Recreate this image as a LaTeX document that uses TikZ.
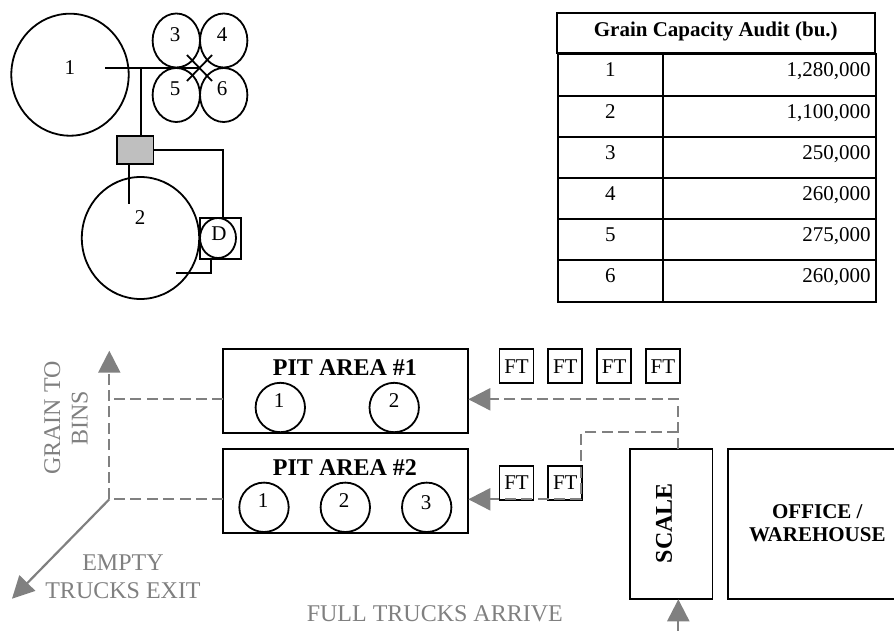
\documentclass[tikz,border=0pt]{standalone}
\usepackage{fontspec}
\setmainfont{Liberation Serif}
\usetikzlibrary{arrows.meta, positioning, shapes.geometric, matrix}
\definecolor{cgrey}{HTML}{808080}
\definecolor{cbox}{HTML}{BFBFBF}
\tikzset{
  every picture/.style={line width=0.9pt},
  bin/.style 2 args={ellipse, draw=black, minimum width=#1, minimum height=#2, inner sep=0pt, outer sep=0pt},
  bigbin/.style={bin={58.7pt}{61pt}},
  smallbin/.style={bin={23.7pt}{27pt}},
  pit/.style={bin={24.7pt}{24.7pt}},
  num/.style={font=\fontsize{10.5}{12}\selectfont, inner sep=0pt},
  area/.style 2 args={draw=black, minimum width=#1, minimum height=#2, inner sep=0pt, outer sep=0pt},
  ftbox/.style={area={17pt}{17pt}, font=\fontsize{10.5}{12}\selectfont},
  head/.style={font=\fontsize{12}{13.8}\selectfont\bfseries, inner sep=0pt, align=center},
  note/.style={font=\fontsize{12}{13.8}\selectfont, text=cgrey, inner sep=0pt, align=center},
  pipe/.style={draw=black, line width=0.9pt},
  flow/.style={draw=cgrey, line width=1.1pt, dash pattern=on 5.5pt off 2.7pt},
  arrow/.style={-{Triangle[length=11pt, width=11pt]}, draw=cgrey, line width=1.1pt},
}
\begin{document}
\begin{tikzpicture}[x=0.5pt, y=-0.5pt]
  \useasboundingbox (0,0) rectangle (894,631);
  % bins
  \node[bigbin] (bin1) at (70,74.7) {};
  \node[bigbin] (bin2) at (140.5,238) {};
  \node[smallbin] (bin3) at (176.3,40.5) {};
  \node[smallbin] (bin4) at (223.7,40.5) {};
  \node[smallbin] (bin5) at (176.3,95) {};
  \node[smallbin] (bin6) at (223.7,95) {};
  \node[area={20.4pt}{20.8pt}] (dsq) at (220.3,238.5) {};
  \node[bin={18pt}{20pt}] (dryer) at (218,238) {};
  \node[area={18.2pt}{14pt}, fill=cbox] (leg) at (135.2,150) {};
  \node[num] (lab1) at (70,68) {1};
  \node[num] (lab2) at (140,218) {2};
  \node[num] (lab3) at (175,35) {3};
  \node[num] (lab4) at (222,35) {4};
  \node[num] (lab5) at (175,89) {5};
  \node[num] (lab6) at (222,89) {6};
  \node[num] (labd) at (219,234) {D};
  % pipes
  \coordinate (hub) at (105,68);
  \coordinate (tee) at (141,68);
  \coordinate (cross) at (200,68);
  \coordinate (drop) at (129,204);
  \coordinate (spout) at (175.7,272.7);
  \coordinate (x3) at (187,55);
  \coordinate (x4) at (212,55);
  \coordinate (x5) at (187,81);
  \coordinate (x6) at (212,81);
  \coordinate (dryerin) at (222.7,218);
  \coordinate (dryerout) at (211,259.3);
  \draw[pipe] (hub) -- (cross);
  \draw[pipe] (tee) -- (tee |- leg.north);
  \draw[pipe] (x3) -- (x6);
  \draw[pipe] (x4) -- (x5);
  \draw[pipe] (leg.east) -| (dryerin);
  \draw[pipe] (drop |- leg.south) -- (drop);
  \draw[pipe] (dryerout) |- (spout);
  % table
  \node[area={159.2pt}{20.25pt}, line width=1pt, inner sep=0pt, font=\fontsize{10.5}{12}\selectfont\bfseries, text height=12pt, text depth=8.2pt] (audittitle) at (715.8,33.2) {Grain Capacity Audit (bu.)};
  \matrix (audit) [matrix of nodes, anchor=north west, inner sep=0pt, column sep=-1pt, row sep=-1pt,
      nodes={draw=black, line width=1pt, outer sep=0pt, inner ysep=2pt, inner xsep=2.5pt, text height=9.2pt, text depth=7.4pt, font=\fontsize{10.5}{12}\selectfont},
      column 1/.style={nodes={text width=47.7pt, align=center}},
      column 2/.style={nodes={text width=101.3pt, align=right}}] at (555.7,52.5) {
    1 & 1,280,000 \\
    2 & 1,100,000 \\
    3 & 250,000 \\
    4 & 260,000 \\
    5 & 275,000 \\
    6 & 260,000 \\
  };
  % pit areas
  \node[area={122.5pt}{42pt}] (pit1) at (345.8,391.3) {};
  \node[area={122.5pt}{41.7pt}] (pit2) at (345.8,491) {};
  \node[head] (pit1lab) at (345,367.7) {PIT AREA \#1};
  \node[head] (pit2lab) at (345,467.7) {PIT AREA \#2};
  \node[pit] (p11) at (280.3,407.5) {};
  \node[pit] (p12) at (394.2,407.5) {};
  \node[pit] (p21) at (264,507.3) {};
  \node[pit] (p22) at (345.3,507.3) {};
  \node[pit] (p23) at (426.7,507.3) {};
  \node[num] (p11lab) at (279,401) {1};
  \node[num] (p12lab) at (394,401) {2};
  \node[num] (p21lab) at (263,501) {1};
  \node[num] (p22lab) at (344,501) {2};
  \node[num] (p23lab) at (426,503) {3};
  % fill trucks
  \node[ftbox] (ft1) at (516.5,366.3) {FT};
  \node[ftbox, right=7.4pt of ft1] (ft2) {FT};
  \node[ftbox, right=7.4pt of ft2] (ft3) {FT};
  \node[ftbox, right=7.4pt of ft3] (ft4) {FT};
  \node[ftbox] (ft5) at (516.5,482.8) {FT};
  \node[ftbox, right=7.4pt of ft5] (ft6) {FT};
  % buildings
  \node[area={41.2pt}{75pt}] (scale) at (671.2,524.3) {};
  \node[head, rotate=90] (scalelab) at (664,523.3) {SCALE};
  \node[area={90pt}{75pt}] (office) at (817.7,524.3) {};
  \node[head, font=\fontsize{10.5}{11.6}\selectfont\bfseries] (officelab) at (817.3,523) {OFFICE /\\WAREHOUSE};
  % grain and truck flows
  \coordinate (pit1in) at ([yshift=-4pt]pit1.east);
  \coordinate (pit2in) at ([yshift=-4.15pt]pit2.east);
  \coordinate (pit1out) at ([yshift=-4pt]pit1.west);
  \coordinate (pit2out) at ([yshift=-4.15pt]pit2.west);
  \coordinate (corner) at (109.3,499.3);
  \coordinate (top) at (109.3,350.7);
  \coordinate (exit) at (12,598.7);
  \coordinate (scaleout) at (678.3,449.3);
  \coordinate (branch) at (678.3,432.3);
  \coordinate (turn) at (581.3,432.3);
  \coordinate (arrive) at (678.3,631);
  \draw[arrow, flow] (scaleout) |- (pit1in);
  \draw[arrow, flow] (branch) -- (turn) |- (pit2in);
  \draw[flow] (pit1out) -- (pit1out -| corner);
  \draw[flow] (pit2out) -- (corner);
  \draw[arrow, flow] (corner) -- (top);
  \draw[arrow] (corner) -- (exit);
  \draw[arrow] (arrive) -- (scale.south -| arrive);
  % flow labels
  \node[note, rotate=90] (grainlab) at (66,418) {GRAIN TO\\BINS};
  \node[note] (emptylab) at (123,576.7) {EMPTY\\TRUCKS EXIT};
  \node[note] (fulllab) at (434.8,613.3) {FULL TRUCKS ARRIVE};
\end{tikzpicture}
\end{document}
